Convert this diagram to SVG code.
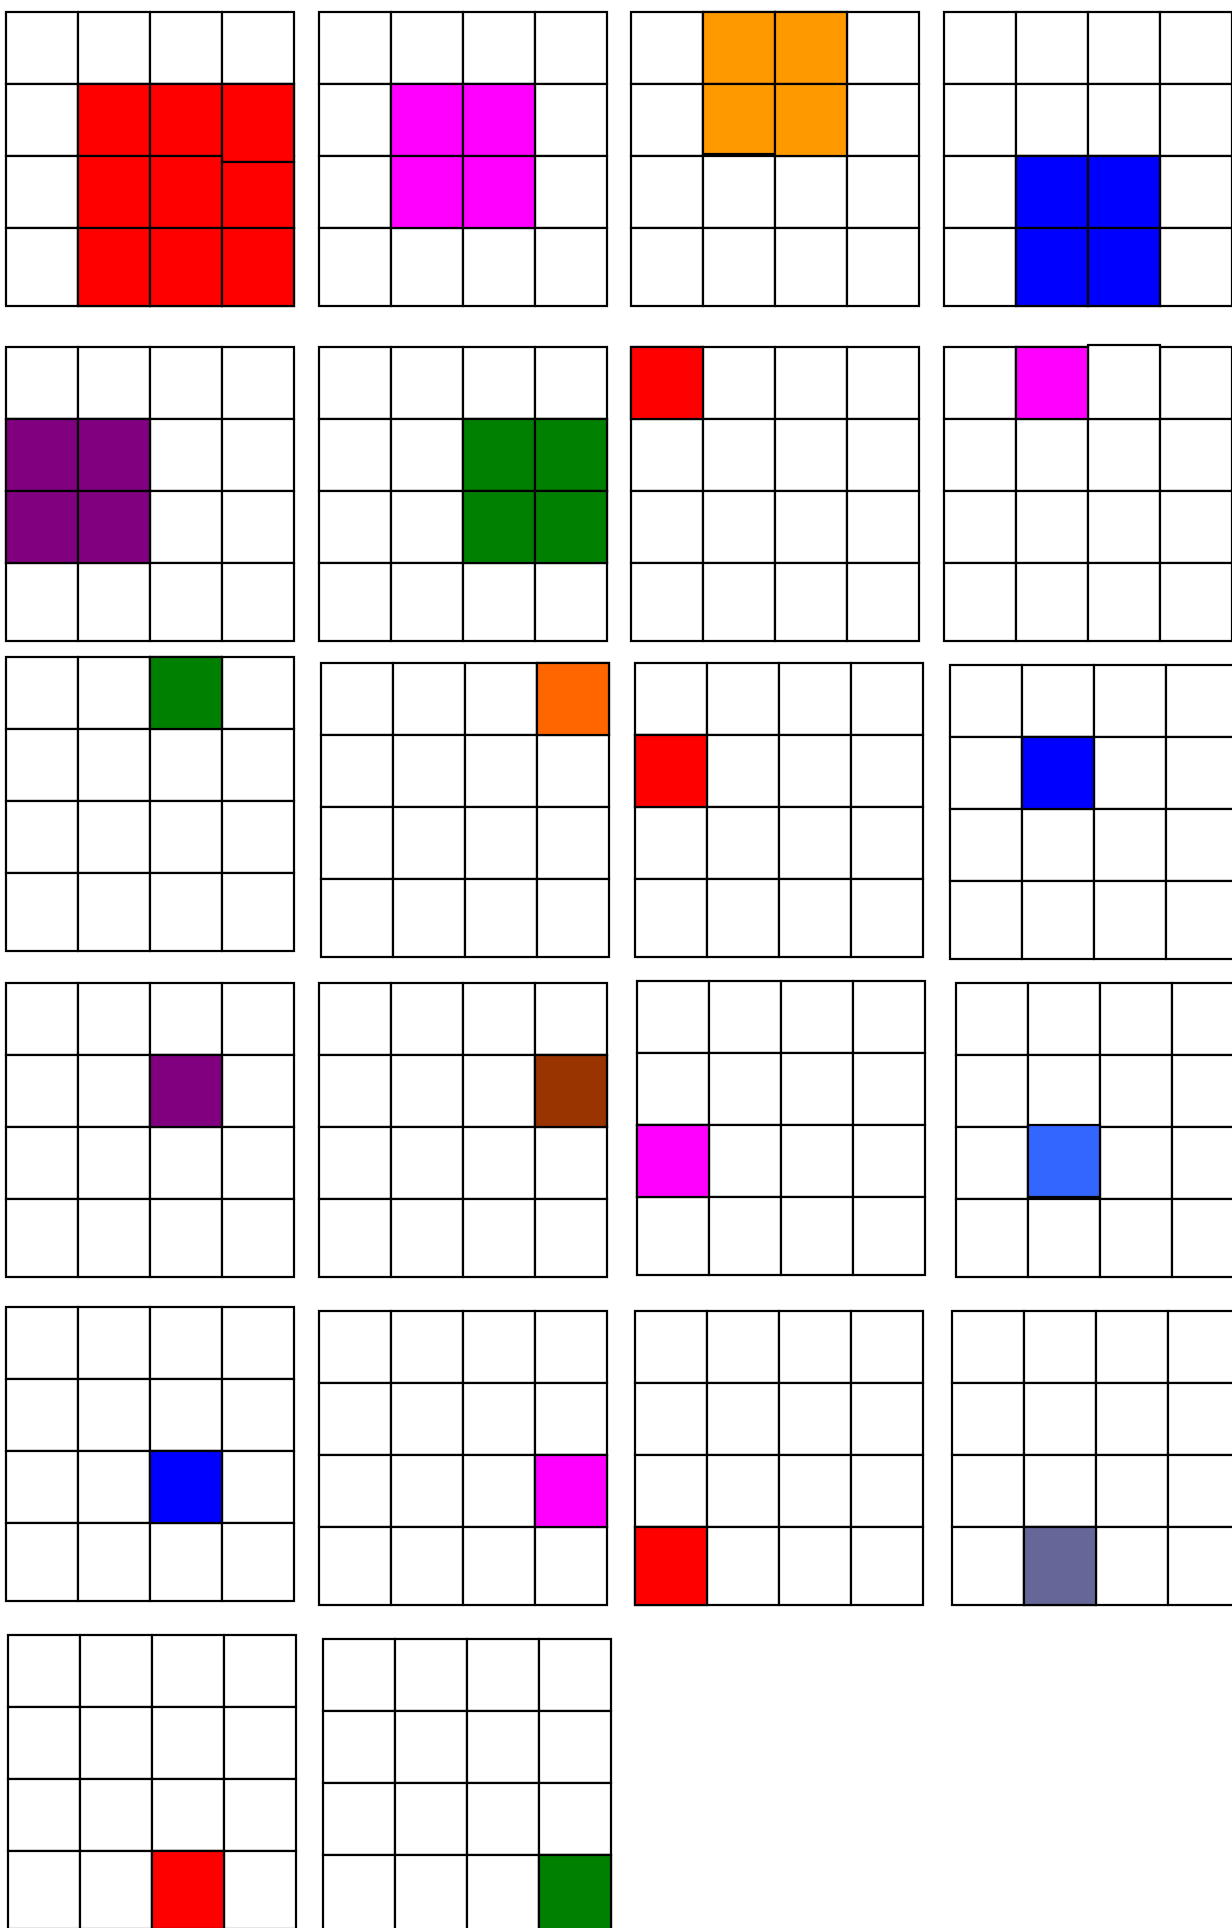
<svg xmlns="http://www.w3.org/2000/svg" xmlns:xlink="http://www.w3.org/1999/xlink" width="1232" height="1928" viewBox="0 0 1232 1928">
<style>
.c{stroke:#000;stroke-width:2.2}
.w{fill:#fff}
.red{fill:#FF0000}.mag{fill:#FF00FF}.org{fill:#FF9900}.blu{fill:#0000FF}.pur{fill:#800080}.grn{fill:#008000}.or2{fill:#FF6600}.brn{fill:#993300}.bl2{fill:#3366FF}.sla{fill:#666699}
</style>
<defs>
<g id="grid">
<rect class="c w" x="0" y="0" width="72" height="72"/><rect class="c w" x="72" y="0" width="72" height="72"/><rect class="c w" x="144" y="0" width="72" height="72"/><rect class="c w" x="216" y="0" width="72" height="72"/>
<rect class="c w" x="0" y="72" width="72" height="72"/><rect class="c w" x="72" y="72" width="72" height="72"/><rect class="c w" x="144" y="72" width="72" height="72"/><rect class="c w" x="216" y="72" width="72" height="72"/>
<rect class="c w" x="0" y="144" width="72" height="72"/><rect class="c w" x="72" y="144" width="72" height="72"/><rect class="c w" x="144" y="144" width="72" height="72"/><rect class="c w" x="216" y="144" width="72" height="72"/>
<rect class="c w" x="0" y="216" width="72" height="78"/><rect class="c w" x="72" y="216" width="72" height="78"/><rect class="c w" x="144" y="216" width="72" height="78"/><rect class="c w" x="216" y="216" width="72" height="78"/>
</g>
</defs>
<rect x="0" y="0" width="1232" height="1928" fill="#fff"/>
<g id="g1" transform="translate(6,12)"><use href="#grid"/>
<rect class="c red" x="72" y="72" width="72" height="72"/><rect class="c red" x="144" y="72" width="72" height="72"/><rect class="c red" x="216" y="72" width="72" height="78"/>
<rect class="c red" x="72" y="144" width="72" height="72"/><rect class="c red" x="144" y="144" width="72" height="72"/><rect class="c red" x="216" y="150" width="72" height="66"/>
<rect class="c red" x="72" y="216" width="72" height="78"/><rect class="c red" x="144" y="216" width="72" height="78"/><rect class="c red" x="216" y="216" width="72" height="78"/></g>
<g id="g2" transform="translate(319,12)"><use href="#grid"/>
<rect class="c mag" x="72" y="72" width="72" height="72"/><rect class="c mag" x="144" y="72" width="72" height="72"/>
<rect class="c mag" x="72" y="144" width="72" height="72"/><rect class="c mag" x="144" y="144" width="72" height="72"/></g>
<g id="g3" transform="translate(631,12)"><use href="#grid"/>
<rect class="c org" x="72" y="0" width="72" height="72"/><rect class="c org" x="144" y="0" width="72" height="72"/>
<rect class="c org" x="72" y="72" width="72" height="70"/><rect class="c org" x="144" y="72" width="72" height="72"/></g>
<g id="g4" transform="translate(944,12)"><use href="#grid"/>
<rect class="c blu" x="72" y="144" width="72" height="72"/><rect class="c blu" x="144" y="144" width="72" height="72"/>
<rect class="c blu" x="72" y="216" width="72" height="78"/><rect class="c blu" x="144" y="216" width="72" height="78"/></g>
<g id="g5" transform="translate(6,347)"><use href="#grid"/>
<rect class="c pur" x="0" y="72" width="72" height="72"/><rect class="c pur" x="72" y="72" width="72" height="72"/>
<rect class="c pur" x="0" y="144" width="72" height="72"/><rect class="c pur" x="72" y="144" width="72" height="72"/></g>
<g id="g6" transform="translate(319,347)"><use href="#grid"/>
<rect class="c grn" x="144" y="72" width="72" height="72"/><rect class="c grn" x="216" y="72" width="72" height="72"/>
<rect class="c grn" x="144" y="144" width="72" height="72"/><rect class="c grn" x="216" y="144" width="72" height="72"/></g>
<g id="g7" transform="translate(631,347)"><use href="#grid"/>
<rect class="c red" x="0" y="0" width="72" height="72"/></g>
<g id="g8" transform="translate(944,347)"><use href="#grid"/>
<rect class="c w" x="144" y="-2" width="72" height="74"/>
<rect class="c mag" x="72" y="0" width="72" height="72"/></g>
<g id="g9" transform="translate(6,657)"><use href="#grid"/>
<rect class="c grn" x="144" y="0" width="72" height="72"/></g>
<g id="g10" transform="translate(321,663)"><use href="#grid"/>
<rect class="c or2" x="216" y="0" width="72" height="72"/></g>
<g id="g11" transform="translate(635,663)"><use href="#grid"/>
<rect class="c red" x="0" y="72" width="72" height="72"/></g>
<g id="g12" transform="translate(950,665)"><use href="#grid"/>
<rect class="c blu" x="72" y="72" width="72" height="72"/></g>
<g id="g13" transform="translate(6,983)"><use href="#grid"/>
<rect class="c pur" x="144" y="72" width="72" height="72"/></g>
<g id="g14" transform="translate(319,983)"><use href="#grid"/>
<rect class="c brn" x="216" y="72" width="72" height="72"/></g>
<g id="g15" transform="translate(637,981)"><use href="#grid"/>
<rect class="c mag" x="0" y="144" width="72" height="72"/></g>
<g id="g16" transform="translate(956,983)"><use href="#grid"/>
<rect class="c bl2" x="72" y="142" width="72" height="72"/></g>
<g id="g17" transform="translate(6,1307)"><use href="#grid"/>
<rect class="c blu" x="144" y="144" width="72" height="72"/></g>
<g id="g18" transform="translate(319,1311)"><use href="#grid"/>
<rect class="c mag" x="216" y="144" width="72" height="72"/></g>
<g id="g19" transform="translate(635,1311)"><use href="#grid"/>
<rect class="c red" x="0" y="216" width="72" height="78"/></g>
<g id="g20" transform="translate(952,1311)"><use href="#grid"/>
<rect class="c sla" x="72" y="216" width="72" height="78"/></g>
<g id="g21" transform="translate(8,1635)"><use href="#grid"/>
<rect class="c red" x="144" y="216" width="72" height="78"/></g>
<g id="g22" transform="translate(323,1639)"><use href="#grid"/>
<rect class="c grn" x="216" y="216" width="72" height="78"/></g>
<g id="connectors"></g>
</svg>
